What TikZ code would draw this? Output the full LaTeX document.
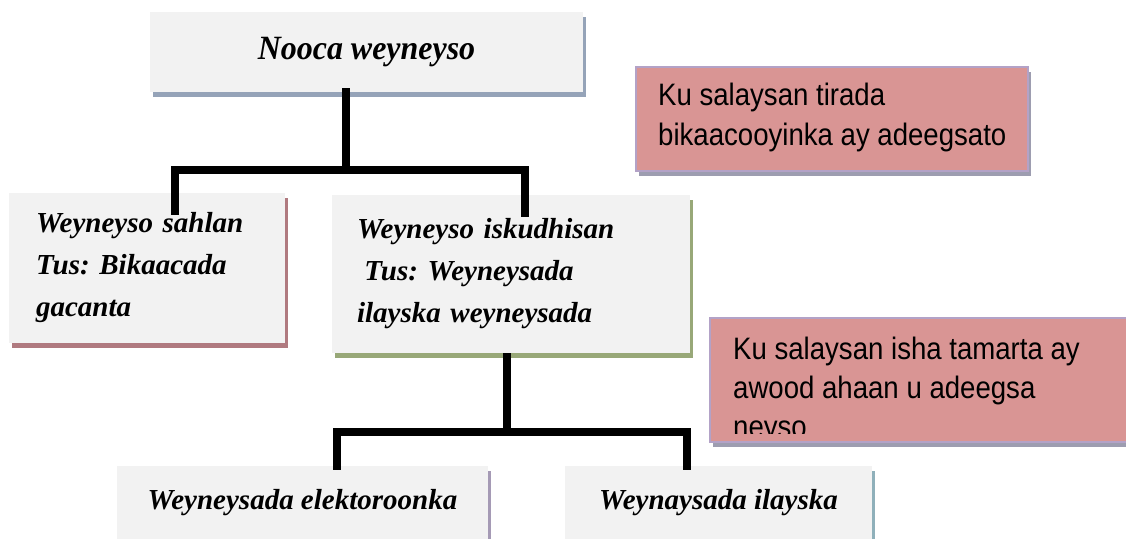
\documentclass[tikz,border=0pt]{standalone}
\usepackage{fontspec}
\setmainfont{Liberation Serif}
\newfontfamily\topserif[FakeStretch=0.94]{Liberation Serif}
\newfontfamily\sansf[FakeStretch=0.89]{Liberation Sans}
\usetikzlibrary{shadows}
\definecolor{boxgray}{HTML}{F2F2F2}
\definecolor{pinkfill}{HTML}{D99594}
\definecolor{pinkline}{HTML}{B3A2C7}
\definecolor{shblue}{HTML}{95A3B8}
\definecolor{shred}{HTML}{B07A80}
\definecolor{shgreen}{HTML}{98A878}
\definecolor{shpurple}{HTML}{A59AB5}
\definecolor{shteal}{HTML}{8FB0BA}
\definecolor{shgray}{HTML}{9D9DB0}
\begin{document}
\frenchspacing
\begin{tikzpicture}[x=1pt,y=-1pt,
  sh/.style={drop shadow={shadow xshift=3pt,shadow yshift=-5pt,fill=#1,opacity=1}},
  box/.style={fill=boxgray,inner sep=0pt,align=left,
    font=\fontsize{29}{42}\selectfont\bfseries\itshape\frenchspacing},
  pinkbox/.style={fill=pinkfill,draw=pinkline,line width=2pt,inner sep=0pt},
  pinktext/.style={inner sep=0pt,anchor=base west,align=left},
  conn/.style={line width=8pt,line join=miter,draw=black}]
\clip (0,0) rectangle (1126,538);
\fill[white] (0,0) rectangle (1126,538);

% boxes
\node[box,sh=shblue,minimum width=433pt,minimum height=80pt,
  font=\topserif\fontsize{34}{40}\selectfont\bfseries\itshape] (top) at (366.5,52) {Nooca weyneyso};
\node[pinkbox,sh=shgray,minimum width=392pt,minimum height=104pt] (pink1) at (832,119) {};
\node[box,sh=shred,minimum width=276pt,minimum height=150pt,text width=222pt] (left) at (147,268)
  {Weyneyso sahlan\\Tus: Bikaacada\\gacanta};
\node[box,sh=shgreen,minimum width=358pt,minimum height=158pt,text width=308pt] (mid) at (511,274)
  {Weyneyso iskudhisan\\\hspace{0.25em}Tus: Weyneysada\\ilayska weyneysada};
\node[pinkbox,sh=shgray,minimum width=430pt,minimum height=124pt] (pink2) at (925,380) {};
\node[box,sh=shpurple,minimum width=371pt,minimum height=74pt] (botl) at (302.5,503)
  {Weyneysada elektoroonka};
\node[box,sh=shteal,minimum width=307pt,minimum height=74pt] (botr) at (718.5,503)
  {Weynaysada ilayska};

% pink texts (base anchor = baseline of the last line)
\node[pinktext,font=\sansf\fontsize{31}{40}\selectfont] (p1text) at (658,145)
  {Ku salaysan tirada\\bikaacooyinka ay adeegsato};
\begin{scope}
  \clip ([yshift=10pt]pink2.south west) rectangle (pink2.north east);
  \node[pinktext,font=\sansf\fontsize{31}{39}\selectfont] (p2text) at (733,437)
    {Ku salaysan isha tamarta ay\\awood ahaan u adeegsa\\neyso};
\end{scope}

% connectors
\coordinate (j1) at (346,170);
\coordinate (lA) at ([xshift=28pt]left.north);
\coordinate (mA) at ([xshift=14pt]mid.north);
\draw[conn] ([xshift=-20.5pt,yshift=4pt]top.south) -- (j1);
\draw[conn] ([yshift=-22pt]lA) -- (lA |- j1) -- (mA |- j1) -- ([yshift=-22pt]mA);

\coordinate (j2) at (507,432);
\coordinate (bA) at ([xshift=34.5pt]botl.north);
\coordinate (bB) at ([xshift=-31.5pt]botr.north);
\draw[conn] ([xshift=-4pt]mid.south) -- (j2);
\draw[conn] ([yshift=-4pt]bA) -- (bA |- j2) -- (bB |- j2) -- ([yshift=-4pt]bB);
\end{tikzpicture}
\end{document}
